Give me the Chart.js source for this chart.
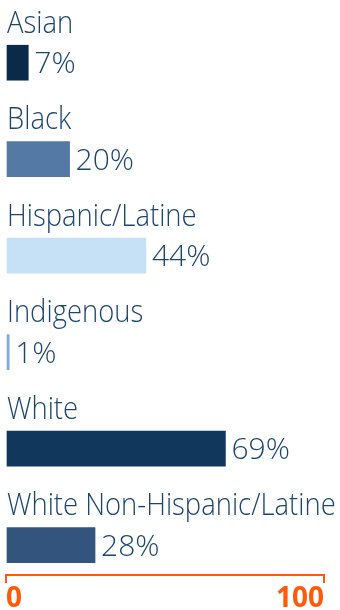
<!DOCTYPE html>
<html>
<head>
<meta charset="utf-8">
<script src="https://cdn.jsdelivr.net/npm/chart.js@4.4.1/dist/chart.umd.min.js"></script>
<style>
  html, body { margin: 0; padding: 0; background: #fff; }
  #wrap { width: 340px; height: 610px; }
</style>
</head>
<body>
<div id="wrap"><canvas id="raceChart"></canvas></div>
<script>
const categories = ['Asian', 'Black', 'Hispanic/Latine', 'Indigenous', 'White', 'White Non-Hispanic/Latine'];
const values = [7, 20, 44, 1, 69, 28];
const barColors = ['#0b2949', '#5479a5', '#c6e1f6', '#80a9dc', '#12375d', '#33557d'];
const xTicks = [0, 100];

const textColor = '#1d466f';
const orange = '#ff5a0a';

// draws the category name above each bar and the value to its right
const barLabels = {
    id: 'barLabels',
    afterDatasetsDraw(chart) {
        const ctx = chart.ctx;
        const meta = chart.getDatasetMeta(0);
        const left = chart.scales.x.getPixelForValue(0);
        ctx.save();
        ctx.fillStyle = textColor;
        ctx.textAlign = 'left';
        meta.data.forEach((bar, i) => {
            // the original font is narrower than Open Sans, so squeeze it a bit
            ctx.save();
            ctx.font = '300 31px "Open Sans"';
            ctx.textBaseline = 'alphabetic';
            ctx.translate(left + 1, bar.y - 30);
            ctx.scale(0.885, 1);
            ctx.fillText(categories[i], 0, 0);
            ctx.restore();

            ctx.font = '300 30px "Open Sans"';
            ctx.textBaseline = 'middle';
            ctx.fillText(values[i] + '%', bar.x + 6, bar.y + 2);
        });
        ctx.restore();
    }
};

const ctx = document.getElementById('raceChart').getContext('2d');
const raceChart = new Chart(ctx, {
    type: 'bar',
    data: {
        datasets: [{
            data: categories.map((c, i) => ({ x: values[i], y: i })),
            backgroundColor: barColors,
            borderWidth: 0,
            barThickness: 35
        }]
    },
    options: {
        indexAxis: 'y',
        responsive: true,
        maintainAspectRatio: false,
        animation: false,
        layout: { padding: { left: 6, right: 16, top: 0, bottom: 0 } },
        plugins: {
            legend: { display: false },
            tooltip: { enabled: false }
        },
        scales: {
            y: {
                type: 'linear',
                reverse: true,
                offset: false,
                min: -0.65,
                max: 5.31,
                display: false
            },
            x: {
                type: 'linear',
                position: 'bottom',
                min: 0,
                max: 100,
                afterBuildTicks: axis => { axis.ticks = xTicks.map(v => ({ value: v })); },
                afterFit: axis => { axis.height = 35; },
                grid: {
                    drawOnChartArea: false,
                    drawTicks: true,
                    tickLength: 8,
                    color: orange,
                    lineWidth: 2
                },
                border: { display: true, color: orange, width: 2 },
                ticks: {
                    align: 'inner',
                    padding: 2,
                    color: orange,
                    font: { family: 'Open Sans', weight: 'bold', size: 28, lineHeight: 1 }
                }
            }
        }
    },
    plugins: [barLabels]
});
</script>
</body>
</html>
